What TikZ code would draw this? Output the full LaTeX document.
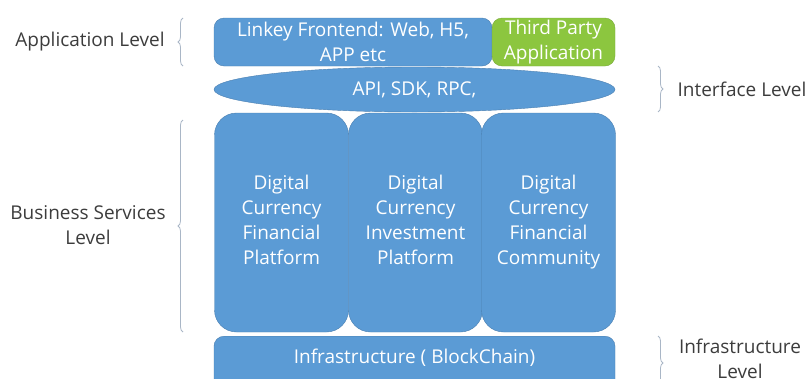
\documentclass[tikz,border=0pt]{standalone}
\usepackage{fontspec}
\setmainfont{Open Sans}
\usetikzlibrary{shapes.geometric,decorations.pathreplacing}
\definecolor{tierblue}{HTML}{5B9BD5}
\definecolor{tieredge}{HTML}{4A7FB0}
\definecolor{thirdgreen}{HTML}{8CC63F}
\definecolor{greenedge}{HTML}{78A83A}
\definecolor{bracegray}{HTML}{A9B6C6}
\definecolor{labelgray}{HTML}{3C3C3C}
\begin{document}
\begin{tikzpicture}[
  x=1pt, y=-1pt,
  tier/.style={draw=tieredge, fill=tierblue, text=white, rounded corners=10pt,
    inner sep=0pt, align=center, font=\fontsize{19}{25}\selectfont},
  pillar/.style={tier, rounded corners=22pt, minimum width=134pt, minimum height=219pt},
  tiertext/.style={text=white, align=center, font=\fontsize{19}{25}\selectfont},
  levelname/.style={text=labelgray, align=center, font=\fontsize{19}{25}\selectfont},
  levelbrace/.style={draw=bracegray, line width=0.8pt, decorate,
    decoration={brace, amplitude=5pt}}
]
\clip (0,0) rectangle (808,378);

% --- Application level ---
\node[tier, minimum width=278pt, minimum height=48pt] (front) at (353,42)
  {Linkey Frontend: Web, H5,\\APP etc};
\node[tier, fill=thirdgreen, draw=greenedge, minimum width=123pt, minimum height=48pt]
  (third) at (553.5,42) {Third Party\\Application};

% --- Interface level ---
\node[tier, ellipse, minimum width=401pt, minimum height=45pt] (api) at (414.5,89.5)
  {API, SDK, RPC,};

% --- Business services level ---
\node[pillar] (finplat) at (281.5,222.5) {Digital\\Currency\\Financial\\Platform\vphantom{y}};
\node[pillar] (invplat) at (415.5,222.5) {Digital\\Currency\\Investment\\Platform\vphantom{y}};
\node[pillar] (fincom) at (548.5,222.5) {Digital\\Currency\\Financial\\Community};

% --- Infrastructure level ---
\node[tier, minimum width=401pt, minimum height=64pt, anchor=north] (infra) at (414.5,336) {};
\node[tiertext] (chain) at (414.5,358) {Infrastructure ( BlockChain)};

% --- Level names ---
\node[levelname] (applevel) at (90,42) {Application Level};
\node[levelname] (buslevel) at (88,225.5) {Business Services\\Level};
\node[levelname] (intlevel) at (742,89) {Interface Level};
\node[levelname] (inflevel) at (740,359) {Infrastructure\\Level};

% --- Braces ---
\coordinate (appbot) at (183,66);
\coordinate (apptop) at (183,18);
\coordinate (busbot) at (183,332);
\coordinate (bustop) at (183,120);
\coordinate (inttop) at (658,66);
\coordinate (intbot) at (658,112);
\coordinate (inftop) at (658,336);
\coordinate (infbot) at (658,390);
\draw[levelbrace] (appbot) -- (apptop);
\draw[levelbrace] (busbot) -- (bustop);
\draw[levelbrace] (inttop) -- (intbot);
\draw[levelbrace] (inftop) -- (infbot);

\end{tikzpicture}
\end{document}
